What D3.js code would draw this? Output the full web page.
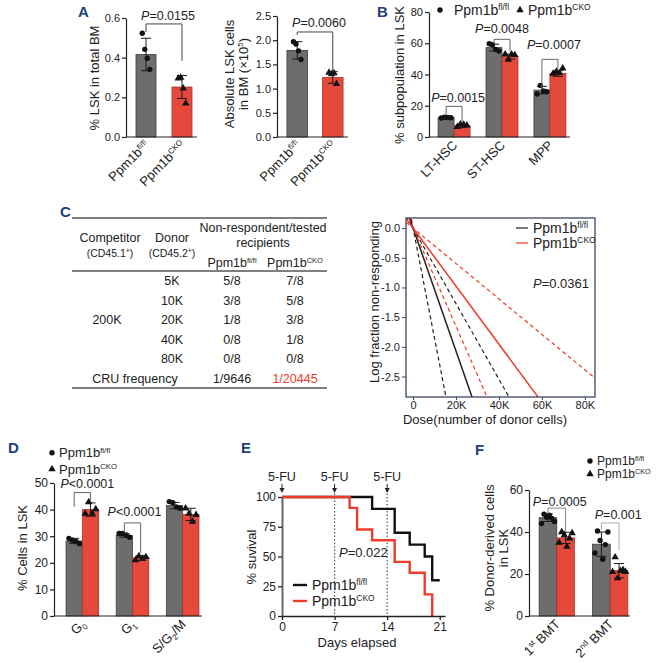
<!DOCTYPE html>
<html>
<head>
<meta charset="utf-8">
<script src="https://cdn.jsdelivr.net/npm/d3@7"></script>
<style>
body { margin: 0; background: #fff; }
svg { font-family: "Liberation Sans", Arial, sans-serif; }
</style>
</head>
<body>
<svg width="656" height="663"></svg>
<script>
// ---- data ----
const genotypes = ["fl/fl", "CKO"];

// A: % LSK in total BM
const lskPctMean = [0.416, 0.252];
const lskPctSd = [0.082, 0.058];
const lskPctPts = [[0.523, 0.442, 0.397, 0.341], [0.296, 0.30, 0.245, 0.17]];

// A: absolute LSK (x10^5)
const lskAbsMean = [1.79, 1.23];
const lskAbsSd = [0.18, 0.12];
const lskAbsPts = [[1.97, 1.92, 1.78, 1.60], [1.33, 1.30, 1.32, 1.10]];

// B: subpopulations
const subsets = ["LT-HSC", "ST-HSC", "MPP"];
const subFlMean = [12.4, 57.2, 30.0];
const subFlSd = [0.6, 2.2, 2.4];
const subFlPts = [[12.2, 12.6, 12.5, 12.3], [59.7, 59.0, 56.0, 55.0], [27.5, 33.0, 29.5, 29.0]];
const subCkoMean = [7.2, 51.5, 40.6];
const subCkoSd = [1.2, 1.6, 1.8];
const subCkoPts = [[6.5, 8.2, 8.0, 7.5], [53.0, 49.6, 53.0, 52.5], [40.6, 41.9, 41.0, 44.0]];

// C: limiting dilution table + CRU lines
const donorDoses = ["5K", "10K", "20K", "40K", "80K"];
const nonRespFl = ["5/8", "3/8", "1/8", "0/8", "0/8"];
const nonRespCko = ["7/8", "5/8", "3/8", "1/8", "0/8"];
const cruFrequency = ["1/9646", "1/20445"];
const cruEstimate = [9646, 20445];
const cruLower = [5380, 12100];
const cruUpper = [15700, 33500];
const doseTicks = [0, 20000, 40000, 60000, 80000];
const logTicks = [0, -0.5, -1.0, -1.5, -2.0, -2.5];

// D: cell cycle
const phases = ["G0", "G1", "SG2M"];
const cycFlMean = [28.2, 30.3, 41.5];
const cycFlSd = [1.0, 0.7, 1.2];
const cycFlPts = [[29.2, 28.5, 28.0, 27.2], [31.0, 31.0, 30.5, 29.6], [43.0, 42.6, 41.0, 40.5]];
const cycCkoMean = [40.0, 21.8, 38.2];
const cycCkoSd = [2.5, 0.9, 2.3];
const cycCkoPts = [[38.5, 42.8, 38.5, 40.2], [21.0, 22.5, 21.6, 22.2], [40.5, 38.5, 35.5, 38.0]];

// E: survival after 5-FU
const fuDays = [0, 7, 14];
const survFlDays = [0, 12, 15, 17, 19, 20, 21];
const survFlPct = [100, 90, 70, 60, 50, 30, 30];
const survCkoDays = [0, 9, 10, 12, 15, 17, 19, 20];
const survCkoPct = [100, 90.9, 72.7, 63.6, 45.5, 36.4, 18.2, 0];

// F: donor-derived cells
const bmts = ["1st", "2nd"];
const bmtFlMean = [46.8, 34.2];
const bmtFlSd = [1.8, 5.8];
const bmtFlPts = [[44.0, 48.5, 47.0, 48.0, 46.5, 45.0], [30.0, 40.5, 36.0, 27.0, 34.0, 40.0]];
const bmtCkoMean = [37.2, 21.6];
const bmtCkoSd = [2.7, 3.4];
const bmtCkoPts = [[35.0, 40.0, 38.5, 33.0, 37.0, 39.5], [21.0, 28.0, 18.0, 21.5, 22.0, 21.0]];

// ---- styles ----
const FILL = { "fl/fl": "#6d6d6d", "CKO": "#e4493b" };
const EDGE = { "fl/fl": "#3d3d3d", "CKO": "#a9352a" };
const RED_LINE = "#ee3b2a";
const LETTER = "#21407a";

const svg = d3.select("svg");

function geno(sel, key, size) {
    sel.append("tspan").text("Ppm1b");
    sel.append("tspan").attr("font-size", size * 0.6).attr("dy", -size * 0.34).text(key);
}

function marker(g, key, x, y) {
    if (key === "fl/fl") {
        g.append("circle").attr("cx", x).attr("cy", y).attr("r", 2.7).attr("fill", "#111");
    } else {
        g.append("path").attr("d", d3.symbol(d3.symbolTriangle, 24)())
            .attr("transform", `translate(${x},${y})`).attr("fill", "#111");
    }
}

function letter(txt, x, y) {
    svg.append("text").attr("x", x).attr("y", y).attr("font-size", 15).attr("font-weight", "bold")
        .attr("fill", LETTER).text(txt);
}

function yTitle(lines, x, y, size) {
    const t = svg.append("text").attr("transform", `translate(${x},${y}) rotate(-90)`)
        .attr("text-anchor", "middle").attr("font-size", size || 13).attr("fill", "#222");
    lines.forEach((l, i) => {
        const sp = t.append("tspan").attr("x", 0).attr("dy", i === 0 ? 0 : 13.5);
        if (typeof l === "string") sp.text(l); else l(t, sp);
    });
    return t;
}

// generic bar chart with points, sd bars and p brackets
function barChart(cfg) {
    const g = svg.append("g");
    const x = d3.scaleBand().domain(cfg.cats).range(cfg.bandRange)
        .paddingInner(cfg.pi).paddingOuter(cfg.po);
    const xi = d3.scaleBand().domain(cfg.slots).range([0, x.bandwidth()]);
    const y = d3.scaleLinear().domain(cfg.yDomain).range(cfg.yRange);
    const cx = b => x(b.cat) + xi(b.slot) + xi.bandwidth() / 2;

    g.selectAll("rect.bar").data(cfg.bars).enter().append("rect")
        .attr("class", "bar")
        .attr("x", b => x(b.cat) + xi(b.slot))
        .attr("width", xi.bandwidth())
        .attr("y", b => y(b.mean))
        .attr("height", b => y(0) - y(b.mean))
        .attr("fill", b => FILL[b.key])
        .attr("stroke", b => EDGE[b.key]).attr("stroke-width", 0.8);

    cfg.bars.forEach(b => {
        const c = cx(b);
        const n = b.pts.length;
        b.pts.forEach((v, i) => marker(g, b.key, c + (i - (n - 1) / 2) * cfg.jit, y(v)));
        const eb = g.append("g").attr("stroke", "#1a1a1a").attr("stroke-width", 1);
        eb.append("line").attr("x1", c).attr("x2", c).attr("y1", y(b.mean - b.sd)).attr("y2", y(b.mean + b.sd));
        [b.mean - b.sd, b.mean + b.sd].forEach(v =>
            eb.append("line").attr("x1", c - 5).attr("x2", c + 5).attr("y1", y(v)).attr("y2", y(v)));
    });

    // axes
    const ya = g.append("g").attr("transform", `translate(${cfg.bandRange[0]},0)`)
        .call(d3.axisLeft(y).tickValues(cfg.yTicks).tickFormat(cfg.fmt).tickSize(4).tickPadding(2).tickSizeOuter(0));
    ya.selectAll("text").attr("font-size", cfg.tickSize || 11).attr("fill", "#222")
        .attr("font-family", "Liberation Sans, Arial, sans-serif");
    ya.selectAll("line,path").attr("stroke", "#222").attr("stroke-width", 1.2);
    g.append("line").attr("x1", cfg.bandRange[0]).attr("x2", cfg.axisEnd)
        .attr("y1", y(0)).attr("y2", y(0)).attr("stroke", "#222").attr("stroke-width", 1.2);

    cfg.cats.forEach(c => {
        const t = g.append("text")
            .attr("transform", `translate(${x(c) + x.bandwidth() / 2 + 4},${y(0) + 9}) rotate(-45)`)
            .attr("text-anchor", "end").attr("font-size", cfg.xSize || 13).attr("fill", "#222");
        cfg.xlabel(t, c);
    });

    // significance brackets
    cfg.comps.forEach(p => {
        const xa = cx(p.a), xb = cx(p.b);
        g.append("path")
            .attr("d", `M${xa},${y(p.left)}V${y(p.top)}H${xb}V${y(p.right)}`)
            .attr("fill", "none").attr("stroke", p.color || "#666").attr("stroke-width", 1);
        const t = g.append("text").attr("x", (xa + xb) / 2 + (p.dx || 0)).attr("y", y(p.labelY))
            .attr("text-anchor", "middle").attr("font-size", 12.5).attr("fill", "#222");
        t.append("tspan").attr("font-style", "italic").text("P");
        t.append("tspan").text(p.label);
    });
    return { x, y };
}

function pairBars(cats, meansA, sdA, ptsA, meansB, sdB, ptsB) {
    const out = [];
    cats.forEach((c, i) => {
        out.push({ cat: c, slot: 0, key: "fl/fl", mean: meansA[i], sd: sdA[i], pts: ptsA[i] });
        out.push({ cat: c, slot: 1, key: "CKO", mean: meansB[i], sd: sdB[i], pts: ptsB[i] });
    });
    return out;
}

function legendPts(x, y, gap, size) {
    genotypes.forEach((k, i) => {
        const yy = y + i * gap;
        marker(svg, k, x, yy - size * 0.33);
        const t = svg.append("text").attr("x", x + 7).attr("y", yy).attr("font-size", size).attr("fill", "#222");
        geno(t, k, size);
    });
}

// ---- A ----
letter("A", 78, 17);
barChart({
    cats: genotypes, slots: [0],
    bars: genotypes.map((k, i) => ({ cat: k, slot: 0, key: k, mean: lskPctMean[i], sd: lskPctSd[i], pts: lskPctPts[i] })),
    bandRange: [126, 202], pi: 0.444, po: 0.278, axisEnd: 197,
    yDomain: [0, 0.6], yRange: [137, 18], yTicks: [0, 0.2, 0.4, 0.6], fmt: d3.format(".1f"),
    jit: 2.5, xlabel: (t, c) => geno(t, c, 13),
    comps: [{ a: { cat: "fl/fl", slot: 0 }, b: { cat: "CKO", slot: 0 }, top: 0.57, left: 0.53, right: 0.385, labelY: 0.59, label: "=0.0155", dx: 4, color: "#444" }]
});
yTitle(["% LSK in total BM"], 99, 78);

barChart({
    cats: genotypes, slots: [0],
    bars: genotypes.map((k, i) => ({ cat: k, slot: 0, key: k, mean: lskAbsMean[i], sd: lskAbsSd[i], pts: lskAbsPts[i] })),
    bandRange: [277, 353], pi: 0.42, po: 0.28, axisEnd: 348,
    yDomain: [0, 2.5], yRange: [137, 16], yTicks: [0, 0.5, 1.0, 1.5, 2.0, 2.5], fmt: d3.format(".1f"),
    jit: 2.5, xlabel: (t, c) => geno(t, c, 13),
    comps: [{ a: { cat: "fl/fl", slot: 0 }, b: { cat: "CKO", slot: 0 }, top: 2.17, left: 2.11, right: 1.36, labelY: 2.27, label: "=0.0060", dx: 4, color: "#444" }]
});
yTitle(["Absolute LSK cells", (t, sp) => {
    sp.text("in BM (×10");
    t.append("tspan").attr("font-size", 8).attr("dy", -5).text("5");
    t.append("tspan").attr("dy", 5).text(")");
}], 234, 74);

// ---- B ----
letter("B", 377, 17);
barChart({
    cats: subsets, slots: [0, 1],
    bars: pairBars(subsets, subFlMean, subFlSd, subFlPts, subCkoMean, subCkoSd, subCkoPts),
    bandRange: [429, 575], pi: 0.333, po: 0.19, axisEnd: 570,
    yDomain: [0, 80], yRange: [137, 12], yTicks: [0, 20, 40, 60, 80], fmt: d3.format("d"),
    jit: 3.2, xlabel: (t, c) => t.text(c),
    comps: [
        { a: { cat: "LT-HSC", slot: 0 }, b: { cat: "LT-HSC", slot: 1 }, top: 19.6, left: 13.8, right: 8.8, labelY: 22.5, label: "=0.0015", dx: 4 },
        { a: { cat: "ST-HSC", slot: 0 }, b: { cat: "ST-HSC", slot: 1 }, top: 62.5, left: 60, right: 54.8, labelY: 66.7, label: "=0.0048" },
        { a: { cat: "MPP", slot: 0 }, b: { cat: "MPP", slot: 1 }, top: 49.7, left: 31.2, right: 42.7, labelY: 56.4, label: "=0.0007", dx: 4 }
    ]
});
yTitle(["% subpopulation in LSK"], 404, 75);
genotypes.forEach((k, i) => {
    const x0 = [440, 520][i];
    marker(svg, k, x0, 10);
    const t = svg.append("text").attr("x", x0 + 14 - i * 6).attr("y", 15).attr("font-size", 14).attr("fill", "#222");
    geno(t, k, 14);
});

// ---- C table ----
letter("C", 60, 217);
const tab = svg.append("g").attr("fill", "#222").attr("font-size", 12.5).attr("text-anchor", "middle");
const colX = { comp: 110, donor: 172, fl: 232, cko: 295 };
[218, 271, 388].forEach(yy => tab.append("line").attr("x1", 72).attr("x2", 327).attr("y1", yy).attr("y2", yy)
    .attr("stroke", "#555").attr("stroke-width", 1.4));
tab.append("text").attr("x", colX.comp).attr("y", 242).text("Competitor");
tab.append("text").attr("x", colX.donor).attr("y", 242).text("Donor");
[["comp", "(CD45.1"], ["donor", "(CD45.2"]].forEach(([c, s]) => {
    const t = tab.append("text").attr("x", colX[c]).attr("y", 257).attr("font-size", 10.5);
    t.append("tspan").text(s);
    t.append("tspan").attr("font-size", 7).attr("dy", -4).text("+");
    t.append("tspan").attr("dy", 4).text(")");
});
tab.append("text").attr("x", 263).attr("y", 232).text("Non-respondent/tested");
tab.append("text").attr("x", 263).attr("y", 247).text("recipients");
genotypes.forEach((k, i) => {
    const t = tab.append("text").attr("x", i ? colX.cko : colX.fl).attr("y", 267);
    geno(t, k, 12.5);
});
const rowY = d3.scaleBand().domain(donorDoses.concat(["CRU"])).range([271, 388]);
const rc = r => rowY(r) + rowY.bandwidth() / 2 + 4.5;
donorDoses.forEach((d, i) => {
    tab.append("text").attr("x", colX.donor).attr("y", rc(d)).text(d);
    tab.append("text").attr("x", colX.fl).attr("y", rc(d)).text(nonRespFl[i]);
    tab.append("text").attr("x", colX.cko).attr("y", rc(d)).text(nonRespCko[i]);
});
tab.append("text").attr("x", colX.comp - 3).attr("y", (rc("20K"))).text("200K");
tab.append("text").attr("x", 135).attr("y", rc("CRU")).text("CRU frequency");
tab.append("text").attr("x", colX.fl).attr("y", rc("CRU")).text(cruFrequency[0]);
tab.append("text").attr("x", colX.cko).attr("y", rc("CRU")).attr("fill", RED_LINE).text(cruFrequency[1]);

// ---- C plot ----
const xC = d3.scaleLinear().domain([-3300, 84700]).range([406, 595]);
const yC = d3.scaleLinear().domain([0.17, -2.845]).range([218, 397]);
const gC = svg.append("g");
gC.append("clipPath").attr("id", "clipC").append("rect")
    .attr("x", 406).attr("y", 218).attr("width", 189).attr("height", 179);
const lineC = d3.line().x(d => xC(d[0])).y(d => yC(d[1]));
const cruLines = [];
cruEstimate.forEach((c, i) => {
    const col = i ? RED_LINE : "#222";
    cruLines.push({ f: c, col, dash: null, w: 1.5 });
    cruLines.push({ f: cruLower[i], col, dash: "4,3", w: 1.2 });
    cruLines.push({ f: cruUpper[i], col, dash: "4,3", w: 1.2 });
});
gC.append("g").attr("clip-path", "url(#clipC)").selectAll("path").data(cruLines).enter().append("path")
    .attr("d", l => lineC(xC.domain().map(x => [x, -x / l.f])))
    .attr("fill", "none").attr("stroke", l => l.col).attr("stroke-width", l => l.w)
    .attr("stroke-dasharray", l => l.dash);
gC.append("rect").attr("x", 406).attr("y", 218).attr("width", 189).attr("height", 179)
    .attr("fill", "none").attr("stroke", "#3b4662").attr("stroke-width", 1.3);
const yaC = gC.append("g").attr("transform", "translate(406,0)")
    .call(d3.axisLeft(yC).tickValues(logTicks).tickFormat(d => d.toFixed(1)).tickSize(4).tickPadding(2).tickSizeOuter(0));
const xaC = gC.append("g").attr("transform", "translate(0,397)")
    .call(d3.axisBottom(xC).tickValues(doseTicks).tickFormat(d => d === 0 ? "0" : d / 1000 + "K").tickSize(3).tickPadding(1).tickSizeOuter(0));
[yaC, xaC].forEach(a => {
    a.select(".domain").remove();
    a.selectAll("line").attr("stroke", "#3b4662");
    a.selectAll("text").attr("font-size", 11).attr("fill", "#222").attr("font-family", "Liberation Sans, Arial, sans-serif");
});
yTitle(["Log fraction non-responding"], 379, 302);
svg.append("text").attr("x", 485).attr("y", 424).attr("text-anchor", "middle").attr("font-size", 13)
    .attr("fill", "#222").text("Dose(number of donor cells)");
genotypes.forEach((k, i) => {
    const yy = 228 + i * 15;
    svg.append("line").attr("x1", 516).attr("x2", 528).attr("y1", yy).attr("y2", yy)
        .attr("stroke", i ? RED_LINE : "#222").attr("stroke-width", 1.2);
    const t = svg.append("text").attr("x", 533).attr("y", yy + 5).attr("font-size", 14).attr("fill", "#222");
    geno(t, k, 14);
});
const pC = svg.append("text").attr("x", 533).attr("y", 288).attr("font-size", 13).attr("fill", "#222");
pC.append("tspan").attr("font-style", "italic").text("P");
pC.append("tspan").text("=0.0361");

// ---- D ----
letter("D", 8, 453);
const phaseLabel = { G0: ["G", "0", ""], G1: ["G", "1", ""], SG2M: ["S/G", "2", "/M"] };
barChart({
    cats: phases, slots: [0, 1],
    bars: pairBars(phases, cycFlMean, cycFlSd, cycFlPts, cycCkoMean, cycCkoSd, cycCkoPts),
    bandRange: [54, 211], pi: 0.35, po: 0.24, axisEnd: 202,
    yDomain: [0, 50], yRange: [616, 483], yTicks: [0, 10, 20, 30, 40, 50], fmt: d3.format("d"),
    tickSize: 12, jit: 3.5,
    xlabel: (t, c) => {
        const [a, s, b] = phaseLabel[c];
        t.append("tspan").text(a);
        t.append("tspan").attr("font-size", 8).attr("dy", 3).text(s);
        if (b) t.append("tspan").attr("dy", -3).text(b);
    },
    comps: [
        { a: { cat: "G0", slot: 0 }, b: { cat: "G0", slot: 1 }, top: 46.4, left: 41.1, right: 43.7, labelY: 48.2, label: "<0.0001", dx: 5 },
        { a: { cat: "G1", slot: 0 }, b: { cat: "G1", slot: 1 }, top: 35, left: 31.3, right: 23.7, labelY: 37.7, label: "<0.0001", dx: 2 }
    ]
});
yTitle(["% Cells in LSK"], 27, 548);
legendPts(52, 457, 16.5, 13);

// ---- E ----
letter("E", 241, 453);
const xE = d3.scaleLinear().domain([0, 21.7]).range([282, 445]);
const yE = d3.scaleLinear().domain([0, 100]).range([616, 497]);
const gE = svg.append("g");
fuDays.forEach(d => {
    if (d > 0) gE.append("line").attr("x1", xE(d)).attr("x2", xE(d)).attr("y1", 490).attr("y2", 616)
        .attr("stroke", "#555").attr("stroke-width", 1.2).attr("stroke-dasharray", "1.5,2");
    gE.append("text").attr("x", xE(d)).attr("y", 481).attr("text-anchor", "middle").attr("font-size", 12.5)
        .attr("fill", "#222").text("5-FU");
    gE.append("line").attr("x1", xE(d)).attr("x2", xE(d)).attr("y1", 484).attr("y2", 489).attr("stroke", "#222");
    gE.append("path").attr("d", `M${xE(d) - 2.5},${488}L${xE(d) + 2.5},${488}L${xE(d)},${493}Z`).attr("fill", "#222");
});
const km = d3.line().x(d => xE(d[0])).y(d => yE(d[1])).curve(d3.curveStepAfter);
gE.append("path").attr("d", km(survFlDays.map((d, i) => [d, survFlPct[i]])))
    .attr("fill", "none").attr("stroke", "#111").attr("stroke-width", 2.4);
gE.append("path").attr("d", km(survCkoDays.map((d, i) => [d, survCkoPct[i]])))
    .attr("fill", "none").attr("stroke", RED_LINE).attr("stroke-width", 2.4);
const yaE = gE.append("g").attr("transform", "translate(282,0)")
    .call(d3.axisLeft(yE).tickValues([0, 25, 50, 75, 100]).tickSize(4).tickPadding(2).tickSizeOuter(0));
const xaE = gE.append("g").attr("transform", "translate(0,616)")
    .call(d3.axisBottom(xE).tickValues([0, 7, 14, 21]).tickSize(4).tickPadding(2).tickSizeOuter(0));
[yaE, xaE].forEach(a => {
    a.selectAll("line,path").attr("stroke", "#222").attr("stroke-width", 1.3);
    a.selectAll("text").attr("font-size", 12).attr("fill", "#222").attr("font-family", "Liberation Sans, Arial, sans-serif");
});
yaE.select(".domain").attr("stroke", "#666").attr("stroke-width", 2);
yTitle(["% suvival"], 256, 557);
svg.append("text").attr("x", 357).attr("y", 647).attr("text-anchor", "middle").attr("font-size", 13)
    .attr("fill", "#222").text("Days elapsed");
const pE = svg.append("text").attr("x", 339).attr("y", 557).attr("font-size", 13).attr("fill", "#222");
pE.append("tspan").attr("font-style", "italic").text("P");
pE.append("tspan").text("=0.022");
genotypes.forEach((k, i) => {
    const yy = 585 + i * 16;
    svg.append("line").attr("x1", 293).attr("x2", 307).attr("y1", yy).attr("y2", yy)
        .attr("stroke", i ? RED_LINE : "#111").attr("stroke-width", 2.4);
    const t = svg.append("text").attr("x", 312).attr("y", yy + 5).attr("font-size", 14).attr("fill", "#222");
    geno(t, k, 14);
});

// ---- F ----
letter("F", 475, 455);
const bmtSup = { "1st": ["1", "st"], "2nd": ["2", "nd"] };
barChart({
    cats: bmts, slots: [0, 1],
    bars: pairBars(bmts, bmtFlMean, bmtFlSd, bmtFlPts, bmtCkoMean, bmtCkoSd, bmtCkoPts),
    bandRange: [529, 638], pi: 0.34, po: 0.19, axisEnd: 630,
    yDomain: [0, 60], yRange: [616, 490], yTicks: [0, 20, 40, 60], fmt: d3.format("d"),
    tickSize: 12, jit: 2.6,
    xlabel: (t, c) => {
        const [n, s] = bmtSup[c];
        t.append("tspan").text(n);
        t.append("tspan").attr("font-size", 8).attr("dy", -5).text(s);
        t.append("tspan").attr("dy", 5).text(" BMT");
    },
    comps: [
        { a: { cat: "1st", slot: 0 }, b: { cat: "1st", slot: 1 }, top: 51.4, left: 49, right: 40, labelY: 52.6, label: "=0.0005", dx: 3, color: "#888" },
        { a: { cat: "2nd", slot: 0 }, b: { cat: "2nd", slot: 1 }, top: 44.3, left: 41, right: 31.4, labelY: 46.2, label: "=0.001", dx: 8, color: "#aaa" }
    ]
});
yTitle(["% Donor-derived cells", "in LSK"], 494, 548);
legendPts(590, 465, 13, 12);
</script>
</body>
</html>
